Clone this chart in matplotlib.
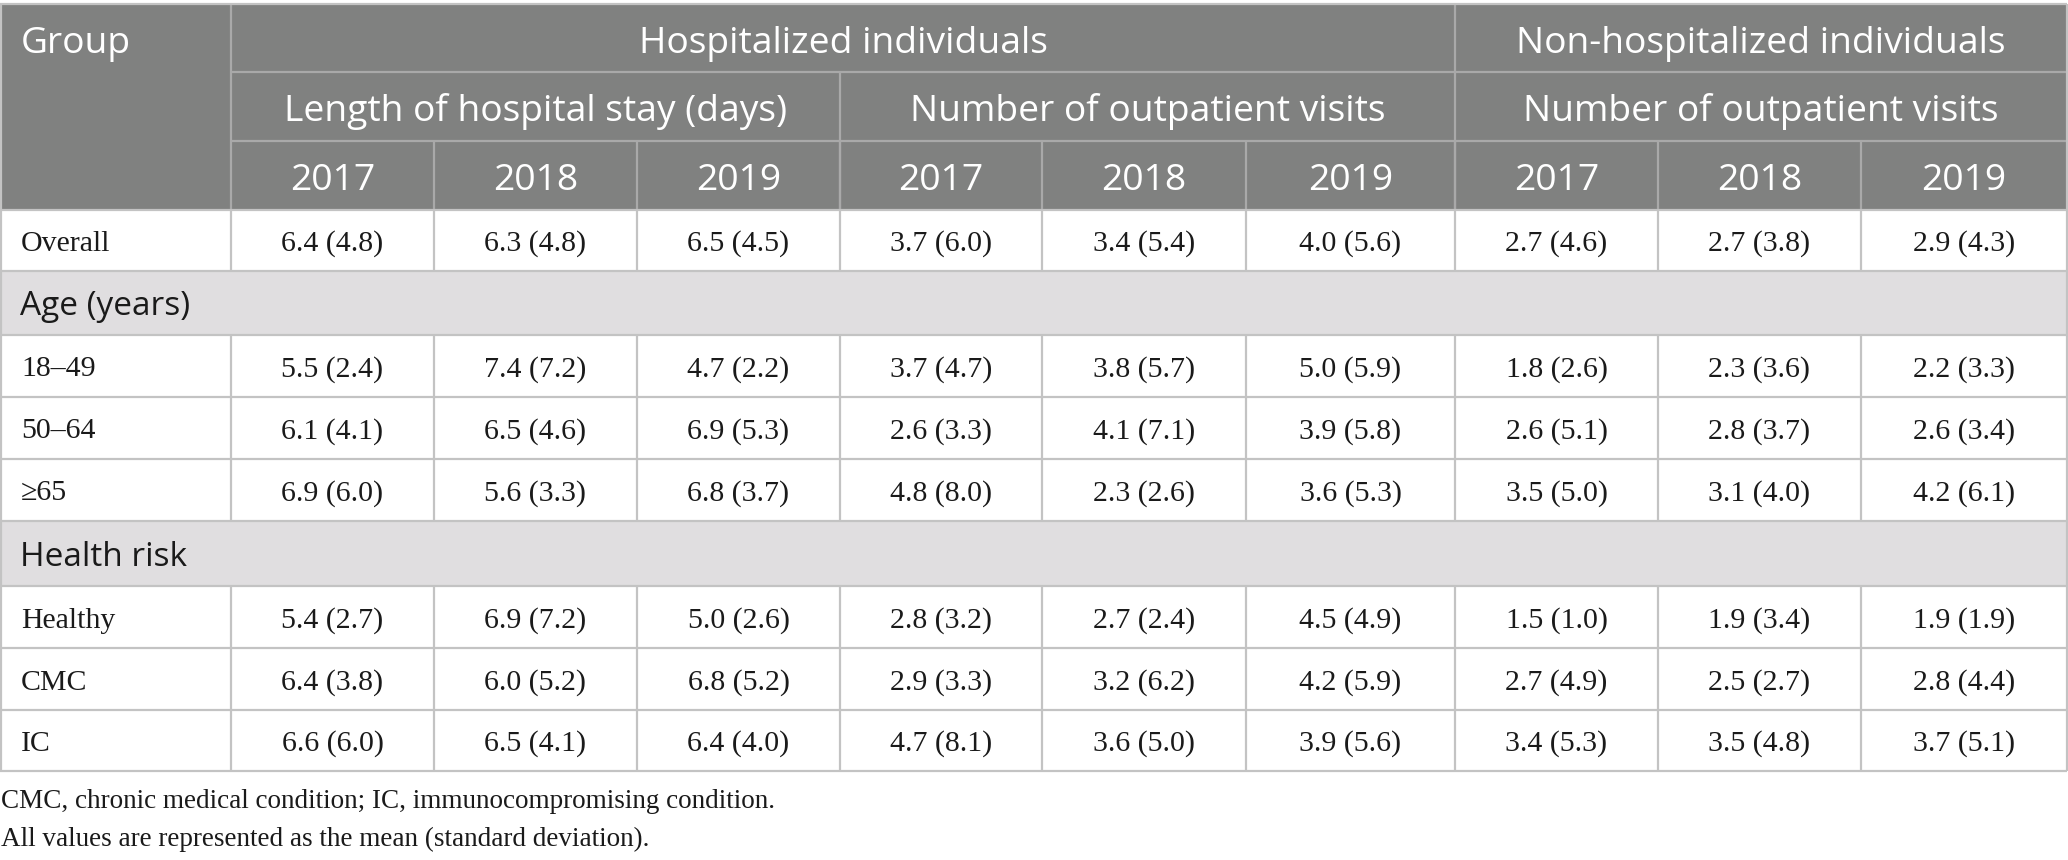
import matplotlib
matplotlib.use("Agg")
import matplotlib.pyplot as plt
from matplotlib.patches import Rectangle

# table content
row_labels = ["Overall", "Age (years)", "18\u201349", "50\u201364", "\u226565",
              "Health risk", "Healthy", "CMC", "IC"]
section_rows = ["Age (years)", "Health risk"]
years = ["2017", "2018", "2019"]
groups_top = ["Hospitalized individuals", "Non-hospitalized individuals"]
groups_mid = ["Length of hospital stay (days)", "Number of outpatient visits",
              "Number of outpatient visits"]

means = {
    "Overall": [6.4, 6.3, 6.5, 3.7, 3.4, 4.0, 2.7, 2.7, 2.9],
    "18\u201349": [5.5, 7.4, 4.7, 3.7, 3.8, 5.0, 1.8, 2.3, 2.2],
    "50\u201364": [6.1, 6.5, 6.9, 2.6, 4.1, 3.9, 2.6, 2.8, 2.6],
    "\u226565": [6.9, 5.6, 6.8, 4.8, 2.3, 3.6, 3.5, 3.1, 4.2],
    "Healthy": [5.4, 6.9, 5.0, 2.8, 2.7, 4.5, 1.5, 1.9, 1.9],
    "CMC": [6.4, 6.0, 6.8, 2.9, 3.2, 4.2, 2.7, 2.5, 2.8],
    "IC": [6.6, 6.5, 6.4, 4.7, 3.6, 3.9, 3.4, 3.5, 3.7],
}
sds = {
    "Overall": [4.8, 4.8, 4.5, 6.0, 5.4, 5.6, 4.6, 3.8, 4.3],
    "18\u201349": [2.4, 7.2, 2.2, 4.7, 5.7, 5.9, 2.6, 3.6, 3.3],
    "50\u201364": [4.1, 4.6, 5.3, 3.3, 7.1, 5.8, 5.1, 3.7, 3.4],
    "\u226565": [6.0, 3.3, 3.7, 8.0, 2.6, 5.3, 5.0, 4.0, 6.1],
    "Healthy": [2.7, 7.2, 2.6, 3.2, 2.4, 4.9, 1.0, 3.4, 1.9],
    "CMC": [3.8, 5.2, 5.2, 3.3, 6.2, 5.9, 4.9, 2.7, 4.4],
    "IC": [6.0, 4.1, 4.0, 8.1, 5.0, 5.6, 5.3, 4.8, 5.1],
}
footnotes = ["CMC, chronic medical condition; IC, immunocompromising condition.",
             "All values are represented as the mean (standard deviation)."]

# layout in pixels
col_x = [0, 231, 434, 637, 840, 1042, 1246, 1455, 1658, 1861, 2067]
head_y = [4, 72, 141, 210]
row_y = [210, 271, 335, 397, 459, 521, 586, 648, 710, 771]

HEAD = "#808180"
HEAD_LINE = "#a9a9a9"
SECT = "#e0dee0"
GRID = "#c3c3c3"
TXT = "#1a1a1a"
SANS = ["Open Sans", "DejaVu Sans"]
SERIF = ["Liberation Serif", "DejaVu Serif"]
HFS = 26.8
SFS = 24
BFS = 21.5
NFS = 19.5

fig = plt.figure(figsize=(20.68, 8.6), dpi=100)
ax = fig.add_axes([0, 0, 1, 1])
ax.set_xlim(0, 2068)
ax.set_ylim(860, 0)
ax.axis("off")

# header background
ax.add_patch(Rectangle((col_x[0], head_y[0]), col_x[-1] - col_x[0],
                       head_y[-1] - head_y[0], facecolor=HEAD, edgecolor="none"))

def hline(y, x0, x1, c, lw=1.6):
    ax.plot([x0, x1], [y, y], color=c, lw=lw, solid_capstyle="butt")

def vline(x, y0, y1, c, lw=1.6):
    ax.plot([x, x], [y0, y1], color=c, lw=lw, solid_capstyle="butt")

def htext(x, y0, y1, s, ha="center"):
    ax.text(x, (y0 + y1) / 2 + 15, s, color="white", fontsize=HFS,
            family=SANS, ha=ha, va="baseline")

# header lines
hline(head_y[1], col_x[1], col_x[-1], HEAD_LINE)
hline(head_y[2], col_x[1], col_x[-1], HEAD_LINE)
vline(col_x[1], head_y[0], head_y[3], HEAD_LINE)
vline(col_x[7], head_y[0], head_y[3], HEAD_LINE)
vline(col_x[4], head_y[1], head_y[3], HEAD_LINE)
for i in range(2, 10):
    vline(col_x[i], head_y[2], head_y[3], HEAD_LINE)
hline(head_y[0], col_x[0], col_x[-1], GRID)

# header texts
htext(col_x[0] + 21, head_y[0], head_y[1], "Group", ha="left")
htext((col_x[1] + col_x[7]) / 2, head_y[0], head_y[1], groups_top[0])
htext((col_x[7] + col_x[10]) / 2, head_y[0], head_y[1], groups_top[1])
for k, lab in enumerate(groups_mid):
    htext((col_x[1 + 3 * k] + col_x[4 + 3 * k]) / 2, head_y[1], head_y[2], lab)
for j in range(9):
    htext((col_x[j + 1] + col_x[j + 2]) / 2, head_y[2], head_y[3], years[j % 3])

# body rows
for r, lab in enumerate(row_labels):
    y0, y1 = row_y[r], row_y[r + 1]
    yc = (y0 + y1) / 2
    if lab in section_rows:
        ax.add_patch(Rectangle((col_x[0], y0), col_x[-1] - col_x[0], y1 - y0,
                               facecolor=SECT, edgecolor="none"))
        ax.text(col_x[0] + 20, yc + 12, lab, color=TXT, fontsize=SFS,
                family=SANS, ha="left", va="baseline")
    else:
        ax.text(col_x[0] + 21, yc + 10.5, lab, color=TXT, fontsize=BFS,
                family=SERIF, ha="left", va="baseline")
        for j in range(9):
            xc = (col_x[j + 1] + col_x[j + 2]) / 2
            s = f"{means[lab][j]:.1f} ({sds[lab][j]:.1f})"
            ax.text(xc, yc + 10.5, s, color=TXT, fontsize=BFS, family=SERIF,
                    ha="center", va="baseline")
        for x in col_x[1:-1]:
            vline(x, y0, y1, GRID)
    hline(y1, col_x[0], col_x[-1], GRID)

hline(row_y[0], col_x[0], col_x[-1], GRID)
vline(col_x[0] + 0.8, head_y[0], row_y[-1], GRID)
vline(col_x[-1], head_y[0], row_y[-1], GRID)

for k, note in enumerate(footnotes):
    ax.text(1, 808 + 38 * k, note, color=TXT, fontsize=NFS, family=SERIF,
            ha="left", va="baseline")

fig.savefig("out.png", dpi=100)
